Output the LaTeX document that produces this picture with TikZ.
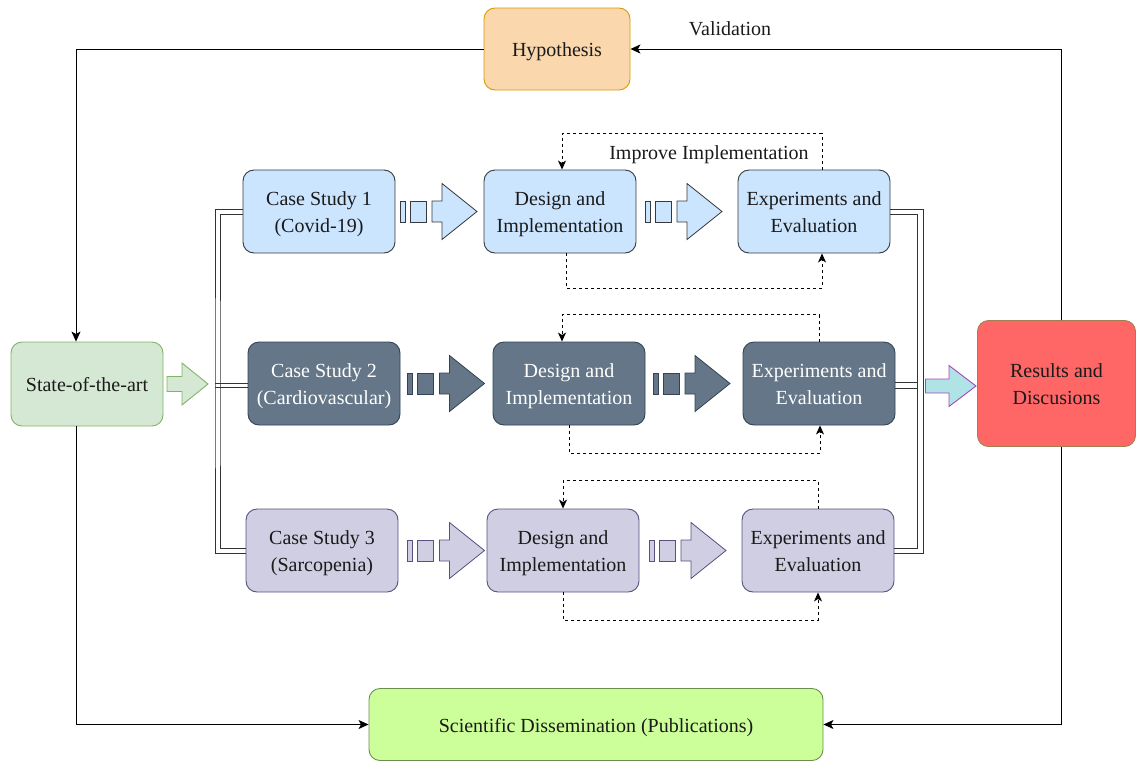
\documentclass[tikz,border=0pt]{standalone}
\usepackage{fontspec}
\setmainfont{Liberation Serif}
\usetikzlibrary{arrows.meta}

\definecolor{hypfill}{HTML}{FAD7AC}
\definecolor{hypline}{HTML}{D79B00}
\definecolor{bluefill}{HTML}{CCE5FF}
\definecolor{blueline}{HTML}{36393D}
\definecolor{darkfill}{HTML}{647687}
\definecolor{darkline}{HTML}{314354}
\definecolor{lavfill}{HTML}{D0CEE2}
\definecolor{lavline}{HTML}{56517E}
\definecolor{soafill}{HTML}{D5E8D4}
\definecolor{soaline}{HTML}{82B366}
\definecolor{scifill}{HTML}{CCFF99}
\definecolor{sciline}{HTML}{6B8E4E}
\definecolor{resfill}{HTML}{FF6666}
\definecolor{resline}{HTML}{A08050}
\definecolor{tealfill}{HTML}{B0E3E6}
\definecolor{purpline}{HTML}{A347BA}
\definecolor{txt}{HTML}{1A1A1A}
\definecolor{linkgray}{HTML}{333333}

% striped block arrow: #1 style, #2 left x, #3 centre y
\newcommand\stripedarrow[3]{%
  \begin{scope}[shift={(#2,#3)}]
    \filldraw[#1] (0,-10.5) rectangle (5,10.5);
    \filldraw[#1] (10,-10.5) rectangle (26,10.5);
    \filldraw[#1] (32,-10.5) -- (42,-10.5) -- (42,-28) -- (77,0) -- (42,28) -- (42,10.5) -- (32,10.5) -- cycle;
  \end{scope}}

% plain block arrow: #1 style, #2 left x, #3 centre y, #4 head base x, #5 tip x, #6 shaft half, #7 head half
\newcommand\blockarrow[7]{%
  \filldraw[#1] (#2,#3-#6) -- (#4,#3-#6) -- (#4,#3-#7) -- (#5,#3) -- (#4,#3+#7) -- (#4,#3+#6) -- (#2,#3+#6) -- cycle;}

\begin{document}
\begin{tikzpicture}[x=1pt,y=-1pt,
  font=\fontsize{20}{27}\selectfont,
  box/.style={rounded corners=11pt, line width=0.9pt, minimum width=152pt, minimum height=83pt,
    align=center, inner sep=2pt, text=txt,
    execute at begin node={\rule{0pt}{20.4pt}},
    execute at end node={\rule[-5pt]{0pt}{0pt}}},
  twoline/.style={execute at begin node={\rule{0pt}{47.4pt}}},
  bluebox/.style={box, twoline, fill=bluefill, draw=blueline},
  darkbox/.style={box, twoline, fill=darkfill, draw=darkline, text=white},
  lavbox/.style={box, twoline, fill=lavfill, draw=lavline},
  bluearr/.style={fill=bluefill, draw=blueline, line width=0.8pt},
  darkarr/.style={fill=darkfill, draw=darkline, line width=0.8pt},
  lavarr/.style={fill=lavfill, draw=lavline, line width=0.8pt},
  conn/.style={line width=0.9pt, black, -{Stealth[length=10pt,width=9pt,inset=2.5pt]}},
  dsh/.style={line width=0.9pt, black, dash pattern=on 3pt off 3pt, -{Stealth[length=9pt,width=8pt,inset=2.5pt]}},
  lnk/.style={draw=linkgray, line width=0.9pt},
  lbl/.style={text=txt, inner sep=1pt}
]
\useasboundingbox (0,0) rectangle (1137,761);

% main nodes
\node[box, fill=hypfill, draw=hypline, minimum width=146pt, minimum height=82pt] (hyp) at (557,49) {Hypothesis};
\node[box, fill=soafill, draw=soaline, minimum width=152pt, minimum height=84pt] (soa) at (87,384) {State-of-the-art};
\node[box, twoline, fill=resfill, draw=resline, minimum width=158pt, minimum height=126pt] (res) at (1056.5,383.5) {Results and\\Discusions};
\node[box, fill=scifill, draw=sciline, minimum width=454pt, minimum height=72pt] (sci) at (596,724.5) {Scientific Dissemination (Publications)};

% case study rows
\node[bluebox] (c1) at (319,211.5) {Case Study 1\\(Covid-19)};
\node[bluebox] (d1) at (560,211.5) {Design and\\Implementation};
\node[bluebox] (e1) at (814,211.5) {Experiments and\\Evaluation};

\node[darkbox] (c2) at (324,383.5) {Case Study 2\\(Cardiovascular)};
\node[darkbox] (d2) at (569,383.5) {Design and\\Implementation};
\node[darkbox] (e2) at (819,383.5) {Experiments and\\Evaluation};

\node[lavbox] (c3) at (322,550.5) {Case Study 3\\(Sarcopenia)};
\node[lavbox] (d3) at (563,550.5) {Design and\\Implementation};
\node[lavbox] (e3) at (818,550.5) {Experiments and\\Evaluation};

% striped arrows between the stages
\stripedarrow{bluearr}{400}{211.5}
\stripedarrow{bluearr}{645}{211.5}
\stripedarrow{darkarr}{407.5}{383.5}
\stripedarrow{darkarr}{653}{383.5}
\stripedarrow{lavarr}{407.5}{550.5}
\stripedarrow{lavarr}{649}{550.5}

% block arrows into and out of the rows
\blockarrow{fill=soafill, draw=soaline, line width=0.9pt}{167}{384}{182}{208}{7.5}{21}
\blockarrow{fill=tealfill, draw=purpline, line width=0.9pt}{925.5}{386}{949}{976}{7}{20.5}

% double links gathering the rows (left side)
\draw[lnk] ([yshift=2.5pt]c1.west) -| (215,385) |- ([yshift=-2.5pt]c3.west);
\draw[lnk] ([yshift=-2.5pt]c1.west) -| (220,385) |- ([yshift=2.5pt]c3.west);
\draw[lnk] (215,383) -- (c2.west |- 0,383);
\draw[lnk] (215,387) -- (c2.west |- 0,387);
% double links gathering the rows (right side)
\draw[lnk] ([yshift=2.5pt]e1.east) -| (923,385) |- ([yshift=-2.5pt]e3.east);
\draw[lnk] ([yshift=-2.5pt]e1.east) -| (917,385) |- ([yshift=2.5pt]e3.east);
\draw[lnk] (e2.east |- 0,382) -- (917,382);
\draw[lnk] (e2.east |- 0,388) -- (917,388);

% outer loop
\draw[conn] (hyp.west) -| ([xshift=-11pt]soa.north);
\draw[conn] ([xshift=-11pt]soa.south) |- (sci.west);
\draw[conn] ([xshift=4.5pt]res.north) |- (hyp.east);
\draw[conn] ([xshift=4.5pt]res.south) |- (sci.east);
\node[lbl] (val) at (730,29) {Validation};

% improvement feedback loops
\draw[dsh] ([xshift=8pt]e1.north) -- ++(0,-36) -| ([xshift=2pt]d1.north);
\node[lbl] (imp) at (709,155) {Improve Implementation};
\draw[dsh] ([xshift=6pt]d1.south) -- ++(0,35) -| ([xshift=8pt]e1.south);

\draw[dsh] (e2.north) -- ++(0,-27) -| ([xshift=-7pt]d2.north);
\draw[dsh] (d2.south) -- ++(0,28) -| ([xshift=1pt]e2.south);

\draw[dsh] (e3.north) -- ++(0,-28) -| (d3.north);
\draw[dsh] (d3.south) -- ++(0,28) -| (e3.south);
\end{tikzpicture}
\end{document}
